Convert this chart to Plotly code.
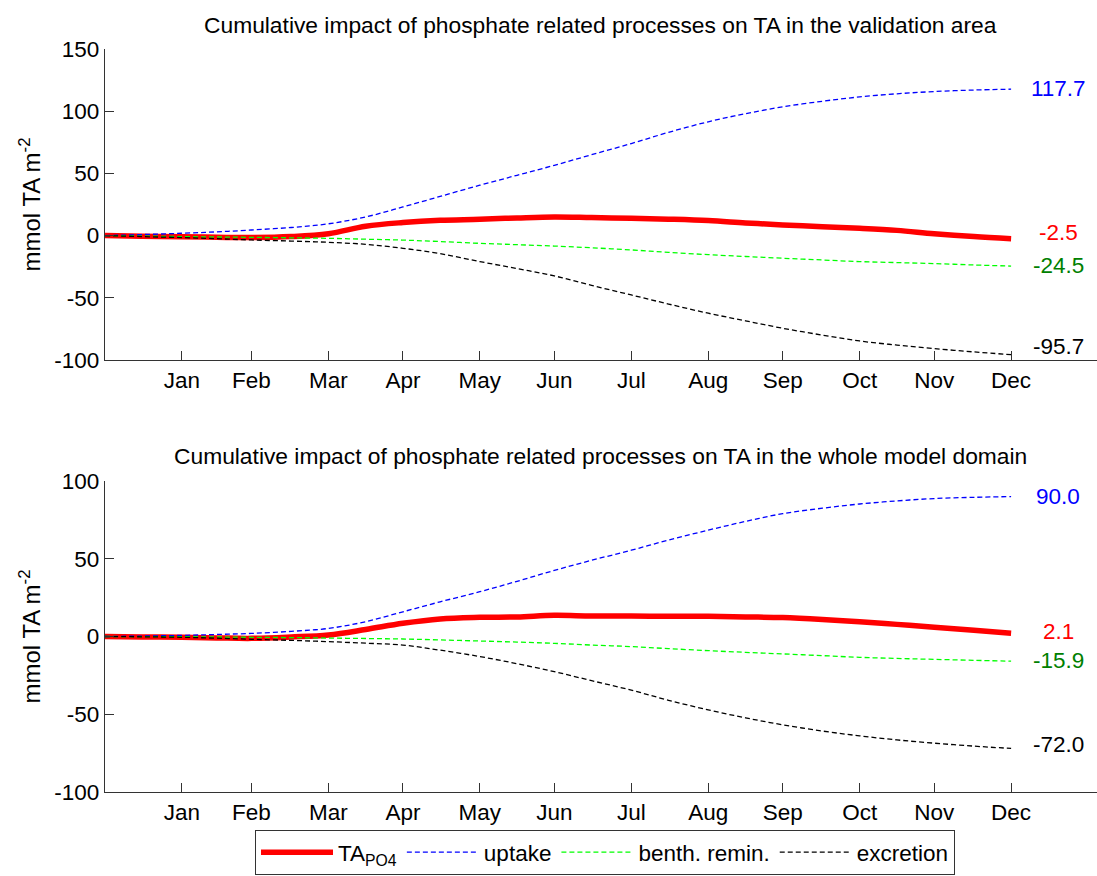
import plotly.graph_objects as go
from plotly.subplots import make_subplots

# ---- data ----
days = [0, 15, 31, 45, 59, 75, 90, 105, 120, 135, 151, 166, 181, 196, 212, 227,
        243, 258, 273, 289, 304, 319, 334, 350, 365]

month_days = [31, 59, 90, 120, 151, 181, 212, 243, 273, 304, 334, 365]
month_labels = ["Jan", "Feb", "Mar", "Apr", "May", "Jun", "Jul", "Aug", "Sep",
                "Oct", "Nov", "Dec"]

# validation area
val_ta = [0, -0.5, -0.9, -1.3, -1.6, -0.8, 1.5, 7.5, 10.5, 12.3, 13.1, 14.2, 15.0,
          14.5, 13.9, 13.2, 12.1, 10.2, 8.6, 7.2, 5.9, 4.2, 1.5, -0.8, -2.5]
val_uptake = [0, 0.8, 1.9, 3.0, 4.5, 6.5, 9.5, 15.0, 23.0, 31.5, 40.5, 48.5, 56.5,
              65.0, 74.0, 83.0, 91.5, 98.0, 103.5, 108.0, 111.5, 114.0, 115.8,
              117.0, 117.7]
val_benth = [0, -0.4, -0.8, -1.1, -1.4, -1.8, -2.2, -2.9, -3.6, -4.8, -6.2, -7.3,
             -8.4, -9.8, -11.5, -13.5, -15.3, -16.8, -18.2, -19.6, -20.9, -21.7,
             -22.5, -23.6, -24.5]
val_excr = [0, -0.8, -1.6, -2.5, -3.5, -4.4, -5.4, -7.0, -10.2, -14.5, -20.9,
            -26.5, -32.4, -40.0, -47.7, -55.0, -62.4, -68.5, -74.5, -80.0, -84.7,
            -88.0, -90.8, -93.5, -95.7]

# whole model domain
dom_ta = [0, -0.3, -0.5, -0.9, -1.2, -0.3, 1.0, 4.5, 8.5, 11.3, 12.3, 12.6, 13.6,
          13.2, 13.2, 13.0, 13.0, 12.6, 12.2, 11.0, 9.5, 7.8, 5.9, 4.0, 2.1]
dom_uptake = [0, 0.3, 0.7, 1.3, 2.0, 3.3, 5.2, 9.5, 15.9, 22.3, 28.8, 35.5, 42.5,
              49.0, 55.5, 62.0, 68.4, 74.0, 79.0, 82.5, 85.2, 87.2, 88.7, 89.5,
              90.0]
dom_benth = [0, -0.05, -0.1, -0.3, -0.5, -0.7, -1.0, -1.3, -1.6, -2.2, -2.9, -3.6,
             -4.4, -5.5, -6.5, -7.8, -9.1, -10.2, -11.2, -12.3, -13.4, -14.1,
             -14.7, -15.3, -15.9]
dom_excr = [0, -0.2, -0.5, -1.1, -1.8, -2.5, -3.3, -4.3, -5.5, -8.8, -12.9, -17.5,
            -22.6, -28.4, -34.5, -41.0, -47.2, -52.3, -56.8, -60.8, -63.9, -66.5,
            -68.6, -70.5, -72.0]

titles = ["Cumulative impact of phosphate related processes on TA in the validation area",
          "Cumulative impact of phosphate related processes on TA in the whole model domain"]
names = ["TA<sub>PO4</sub>", "uptake", "benth. remin.", "excretion"]
line_colors = ["#ff0000", "#0000ff", "#00ff00", "#000000"]
label_colors = ["#ff0000", "#0000ff", "#008000", "#000000"]

top_ticks = [-100, -50, 0, 50, 100, 150]
bot_ticks = [-100, -50, 0, 50, 100]

FONT = "Liberation Sans, Arial, sans-serif"

W, H = 1097, 876
ml, mr, mt, mb = 105, 0, 49, 84
pw, ph = W - ml - mr, H - mt - mb

fig = make_subplots(rows=2, cols=1)

panels = [
    [val_ta, val_uptake, val_benth, val_excr],
    [dom_ta, dom_uptake, dom_benth, dom_excr],
]

for r, series in enumerate(panels, start=1):
    for i, ys in enumerate(series):
        if i == 0:
            line = dict(color=line_colors[i], width=5.5, shape="spline")
        else:
            line = dict(color=line_colors[i], width=1.3, dash="5px,3px", shape="spline")
        fig.add_trace(go.Scatter(x=days, y=ys, mode="lines", name=names[i],
                                 line=line, showlegend=(r == 1)), row=r, col=1)

# right-side end-value labels
label_x = 384
label_shifts = [[6, 1, 1, 8], [2, 0, 1, 4]]
for r, series in enumerate(panels):
    for i, ys in enumerate(series):
        fig.add_annotation(x=label_x, y=ys[-1], xref="x" if r == 0 else "x2",
                           yref="y" if r == 0 else "y2",
                           text=f"{ys[-1]:.1f}", showarrow=False,
                           xanchor="center", yanchor="middle", yshift=label_shifts[r][i],
                           font=dict(color=label_colors[i], size=22.5, family=FONT))

# panel titles (pixel positions converted to paper coords)
title_px = [(600, 25), (600, 456)]
for t, (tx, ty) in zip(titles, title_px):
    fig.add_annotation(x=(tx - ml) / pw, y=(H - ty - mb) / ph, xref="paper", yref="paper",
                       text=t, showarrow=False, xanchor="center", yanchor="middle",
                       font=dict(size=22.8, family=FONT, color="black"))

axis_common = dict(showline=True, linecolor="#333333", linewidth=1.3,
                   ticks="inside", ticklen=9, tickcolor="#333333", tickwidth=1.2,
                   showgrid=False, zeroline=False, automargin=False,
                   tickfont=dict(size=22.5, family=FONT, color="black"))

top_dom = [(H - 360 - mb) / ph, 1.0]
bot_dom = [0.0, (H - 481 - mb) / ph]

fig.update_xaxes(range=[0, 399.6], tickvals=month_days, ticktext=month_labels,
                 **axis_common)
ytitle = dict(text="mmol TA m<sup>-2</sup>", standoff=6,
              font=dict(size=24, family=FONT, color="black"))
fig.update_yaxes(range=[-100, 150], tickvals=top_ticks,
                 ticktext=[str(v) for v in top_ticks], domain=top_dom,
                 title=ytitle, **axis_common, row=1, col=1)
fig.update_yaxes(range=[-100, 100], tickvals=bot_ticks,
                 ticktext=[str(v) for v in bot_ticks], domain=bot_dom,
                 title=ytitle, **axis_common, row=2, col=1)

fig.update_layout(
    width=W, height=H,
    margin=dict(l=ml, r=mr, t=mt, b=mb, autoexpand=False),
    plot_bgcolor="white", paper_bgcolor="white",
    font=dict(family=FONT, size=21, color="black"),
    legend=dict(orientation="h", x=(605 - ml) / pw, xanchor="center",
                y=-38 / ph, yanchor="top",
                bordercolor="#333333", borderwidth=1, bgcolor="white",
                font=dict(size=22.5, family=FONT, color="black"),
                itemwidth=72, tracegroupgap=0),
)

fig.write_html("out.html", config={"displayModeBar": False},
               post_script="document.body.style.margin='0';")
